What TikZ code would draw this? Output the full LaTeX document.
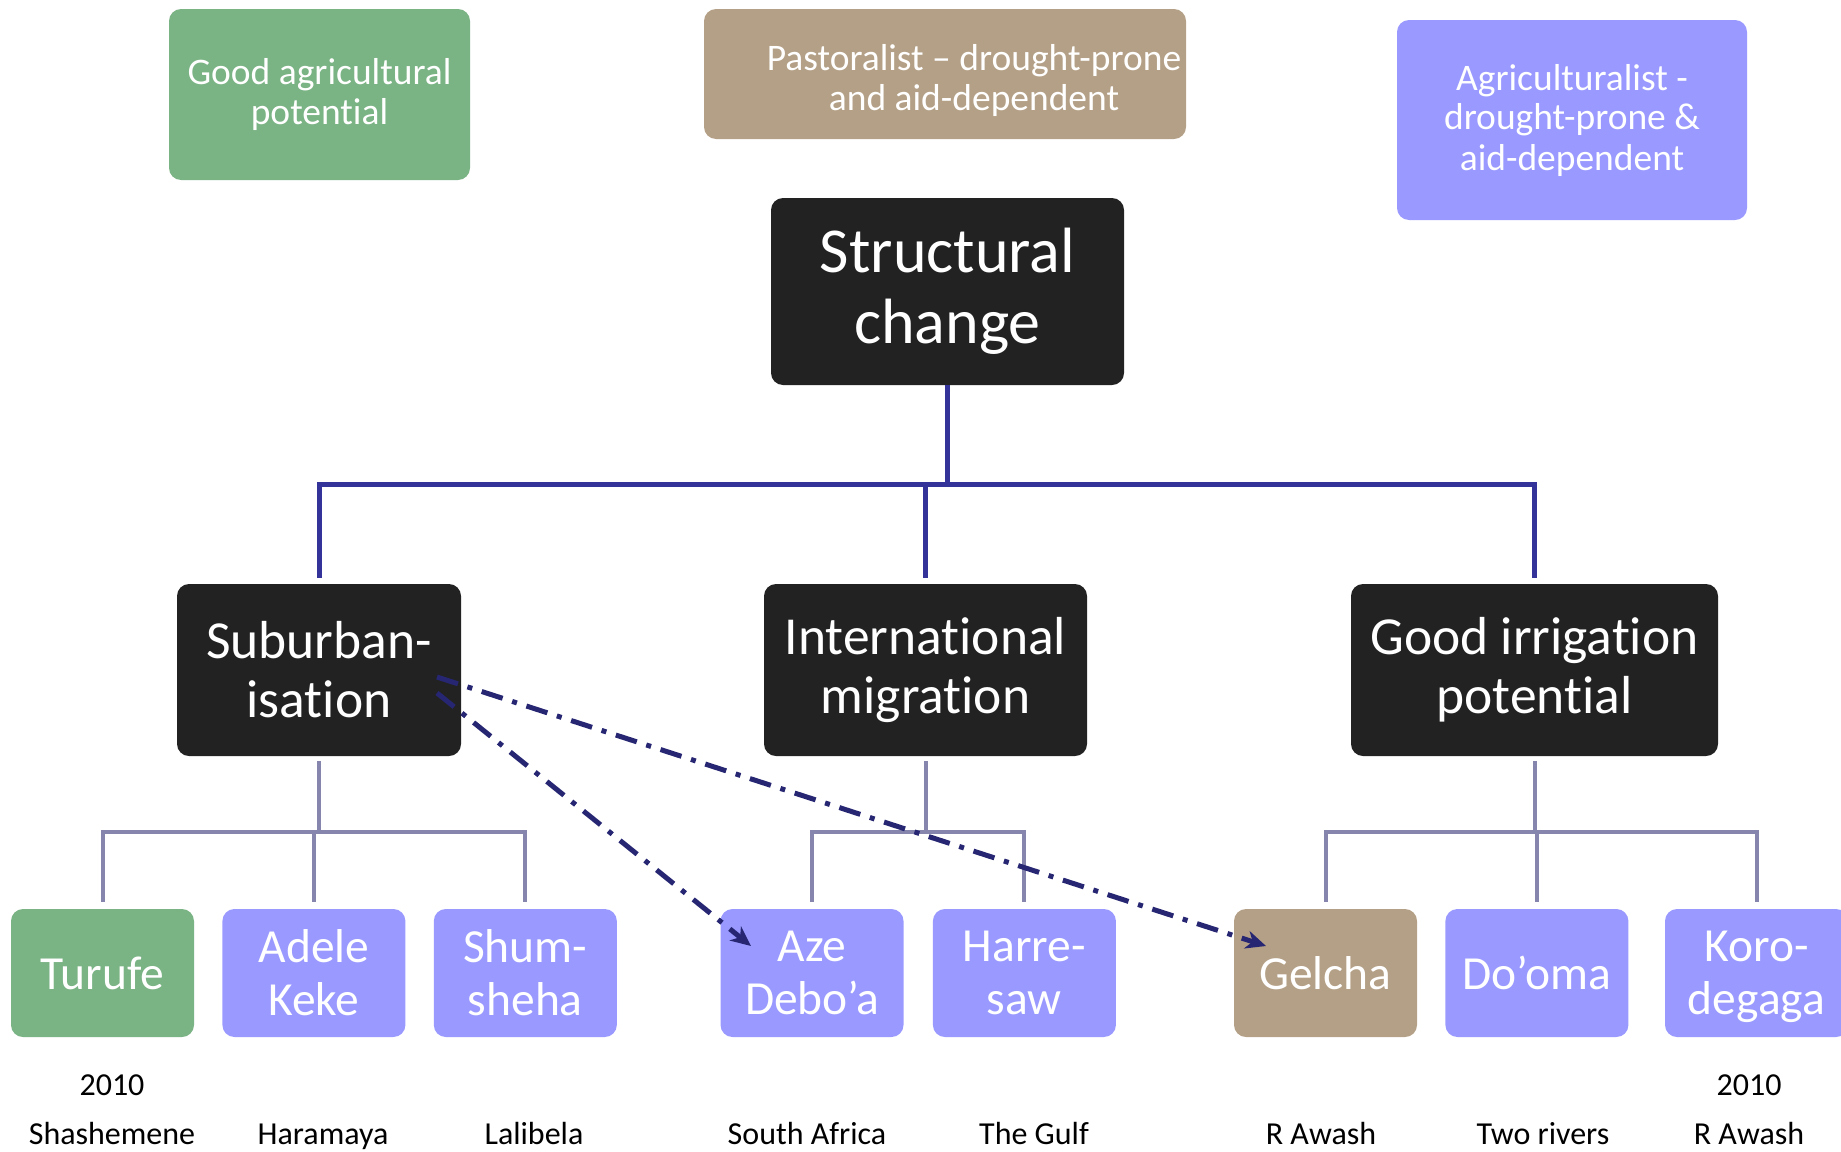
\documentclass[tikz,border=0pt]{standalone}
\usepackage{fontspec}
\setmainfont{Carlito}[Ligatures=NoCommon]
\usetikzlibrary{arrows.meta,positioning}
\definecolor{agrigreen}{HTML}{7AB384}
\definecolor{pastotan}{HTML}{B4A086}
\definecolor{droughtblue}{HTML}{9999FF}
\definecolor{boxblack}{HTML}{222222}
\definecolor{trunkblue}{HTML}{333399}
\definecolor{branchgrey}{HTML}{8585AD}
\definecolor{arrownavy}{HTML}{262673}

\begin{document}
\begin{tikzpicture}[x=1pt,y=-1pt,
    box/.style={rounded corners=12pt,inner sep=0pt,align=center,text=white},
    key node/.style={box,font=\fontsize{37.5}{40}\selectfont},
    main node/.style={box,fill=boxblack,minimum height=172pt,font=\fontsize{53.5}{59}\selectfont},
    site node/.style={box,minimum width=183pt,minimum height=128pt,font=\fontsize{47.5}{53}\selectfont},
    place/.style={anchor=base,font=\fontsize{32}{36}\selectfont},
    trunk/.style={draw=trunkblue,line width=5pt},
    branch/.style={draw=branchgrey,line width=4pt},
    link/.style={arrownavy,line width=5pt,dash pattern=on 22pt off 10pt on 5pt off 10pt,-{Stealth[length=20pt,width=18pt,inset=6pt]}}]

    \useasboundingbox (0,0) rectangle (1841,1151);

    % key
    \node[key node,fill=agrigreen,minimum width=301pt,minimum height=171pt] (agri) at (319.5,94.5) {Good agricultural\\potential};
    \node[box,fill=pastotan,minimum width=482pt,minimum height=130pt] (pasto) at (945,74) {};
    \node[key node] (pasto text) at (974,81) {Pastoralist – drought-prone\\and aid-dependent};
    \node[key node,fill=droughtblue,minimum width=350pt,minimum height=200pt] (drought) at (1572,120) {Agriculturalist -\\drought-prone \&\\aid-dependent};

    % tree
    \node[main node,minimum width=353pt,minimum height=187pt,font=\fontsize{64}{71}\selectfont] (sc) at (947.5,291.5) {Structural\\change};
    \node[main node,minimum width=284pt] (sub) at (319,670) {Suburban-\\isation};
    \node[main node,minimum width=323pt] (mig) at (925.5,670) {International\\migration};
    \node[main node,minimum width=367pt] (irr) at (1534.5,670) {Good irrigation\\potential};

    \node[site node,fill=agrigreen] (turufe) at (102.5,973) {Turufe};
    \node[site node,fill=droughtblue] (adele) [right=28pt of turufe] {Adele\\Keke};
    \node[site node,fill=droughtblue] (shum) [right=28pt of adele] {Shum-\\sheha};
    \node[site node,fill=droughtblue] (aze) at (812,973) {Aze\\Debo’a};
    \node[site node,fill=droughtblue] (harre) [right=29pt of aze] {Harre-\\saw};
    \node[site node,fill=pastotan] (gelcha) at (1325.5,973) {Gelcha};
    \node[site node,fill=droughtblue] (dooma) [right=28pt of gelcha] {Do’oma};
    \node[site node,fill=droughtblue,text depth=0pt] (koro) at (1756.5,973) {Koro-\\degaga};

    \node[place] (y1) at (112,1095) {2010};
    \node[place] (p1) at (112,1144) {Shashemene};
    \node[place] (p2) at (323,1144) {Haramaya};
    \node[place] (p3) at (534,1144) {Lalibela};
    \node[place] (p4) at (807,1144) {South Africa};
    \node[place] (p5) at (1034,1144) {The Gulf};
    \node[place] (p6) at (1321,1144) {R Awash};
    \node[place] (p7) at (1543,1144) {Two rivers};
    \node[place] (y2) at (1749,1095) {2010};
    \node[place] (p8) at (1749,1144) {R Awash};

    \coordinate (bar) at (0,484);
    \coordinate (fork) at (0,832);

    \draw[trunk] (sc.south) -- (sc.south |- bar);
    \draw[trunk,shorten <=6pt,shorten >=6pt] (sub.north) |- (bar -| irr) -| (irr.north);
    \draw[trunk,shorten >=6pt] (mig.north |- bar) -- (mig.north);

    \draw[branch,shorten <=5pt] (sub.south) -- (sub.south |- fork);
    \draw[branch,shorten <=7pt,shorten >=7pt] (turufe.north) |- (fork -| shum) -| (shum.north);
    \draw[branch,shorten <=7pt] (adele.north) -- (adele.north |- fork);
    \draw[branch,shorten <=5pt] (mig.south) -- (mig.south |- fork);
    \draw[branch,shorten <=7pt,shorten >=7pt] (aze.north) |- (fork -| harre) -| (harre.north);
    \draw[branch,shorten <=5pt] (irr.south) -- (irr.south |- fork);
    \draw[branch,shorten <=7pt,shorten >=7pt] (gelcha.north) |- (fork -| koro) -| (koro.north);
    \draw[branch,shorten <=7pt] (dooma.north) -- (dooma.north |- fork);

    % moves out of suburbanisation
    \coordinate (s1) at (437,677);
    \coordinate (s2) at (437,693);
    \coordinate (gelcha tip) at (1266,946);
    \coordinate (aze tip) at (751,946);
    \path
        (s1) edge [link] (gelcha tip)
        (s2) edge [link] (aze tip)
        ;
\end{tikzpicture}
\end{document}
